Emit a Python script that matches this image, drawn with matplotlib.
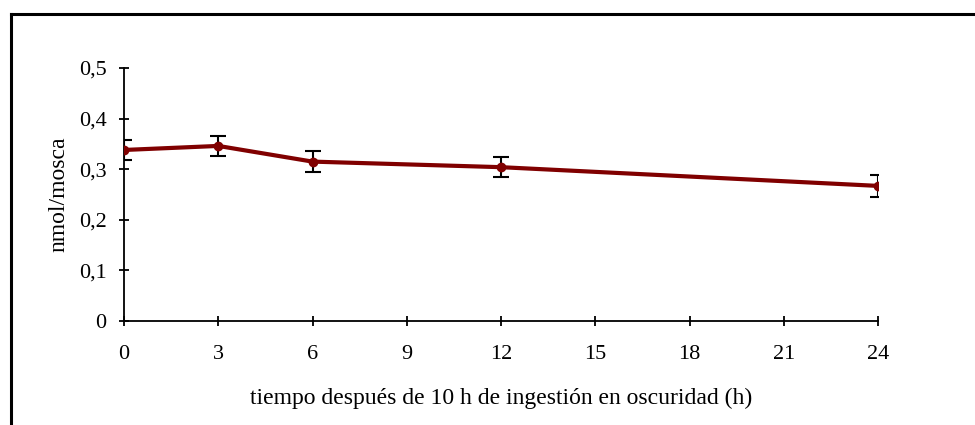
import matplotlib
matplotlib.use("Agg")
import matplotlib.pyplot as plt
from matplotlib.lines import Line2D
import numpy as np

# data
hours = [0, 3, 6, 12, 24]
nmol = [0.338, 0.346, 0.315, 0.304, 0.267]
err = [0.020, 0.019, 0.020, 0.020, 0.022]
x_ticks = [0, 3, 6, 9, 12, 15, 18, 21, 24]
y_ticks = [0, 0.1, 0.2, 0.3, 0.4, 0.5]
y_labels = ["0", "0,1", "0,2", "0,3", "0,4", "0,5"]

plt.rcParams["font.family"] = ["Liberation Serif", "DejaVu Serif"]

W, H = 975, 425
fig = plt.figure(figsize=(W / 100, H / 100), dpi=100)
ax = fig.add_axes([124 / W, (H - 321) / H, (878 - 124) / W, (321 - 68) / H])

ax.errorbar(hours, nmol, yerr=err, color="#800000", lw=3, marker="o", ms=6,
            ecolor="black", elinewidth=1.5, capsize=5.5, capthick=1.5, zorder=3)

ax.set_xlim(0, 24)
ax.set_ylim(0, 0.5)
ax.set_xticks(x_ticks)
ax.set_yticks(y_ticks)
ax.set_yticklabels(y_labels)
for s in ["top", "right"]:
    ax.spines[s].set_visible(False)
for s in ["left", "bottom"]:
    ax.spines[s].set_linewidth(1.3)
    ax.spines[s].set_clip_on(False)
ax.tick_params(axis="both", direction="inout", length=7, width=1.3,
               labelsize=16, colors="black")
ax.tick_params(axis="x", pad=14)
ax.tick_params(axis="y", pad=9)
ax.set_xlabel("tiempo después de 10 h de ingestión en oscuridad (h)",
              fontsize=17, labelpad=17)
ax.set_ylabel("nmol/mosca", fontsize=17, labelpad=7)

# outer frame (top and left edges visible)
fig.add_artist(Line2D([10.5 / W, 10.5 / W], [0, (H - 14) / H],
                      transform=fig.transFigure, color="black", lw=2.2))
fig.add_artist(Line2D([10.5 / W, 1], [(H - 14) / H, (H - 14) / H],
                      transform=fig.transFigure, color="black", lw=2.2))

fig.savefig("out.png", dpi=100)
